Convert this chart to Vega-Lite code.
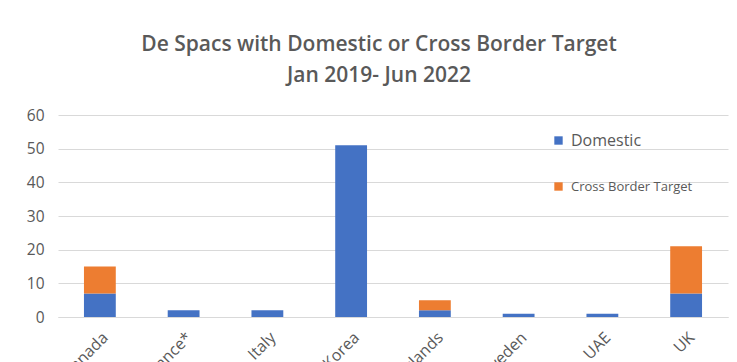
{
  "$schema": "https://vega.github.io/schema/vega-lite/v6.json",
  "autosize": {"type": "none"},
  "width": 670,
  "height": 202,
  "padding": {"left": 58, "top": 115, "right": 9, "bottom": 45},
  "background": "white",
  "title": {
    "text": ["De Spacs with Domestic or Cross Border Target", "Jan 2019- Jun 2022"],
    "font": "Open Sans",
    "fontSize": 21,
    "fontWeight": 600,
    "color": "#595959",
    "anchor": "middle",
    "dx": -14,
    "offset": 22,
    "lineHeight": 31
  },
  "data": {
    "values": [
      {"country": "Canada", "type": "Domestic", "count": 7, "ord": 1},
      {"country": "Canada", "type": "Cross Border Target", "count": 8, "ord": 2},
      {"country": "France*", "type": "Domestic", "count": 2, "ord": 1},
      {"country": "Italy", "type": "Domestic", "count": 2, "ord": 1},
      {"country": "Korea", "type": "Domestic", "count": 51, "ord": 1},
      {"country": "Netherlands", "type": "Domestic", "count": 2, "ord": 1},
      {"country": "Netherlands", "type": "Cross Border Target", "count": 3, "ord": 2},
      {"country": "Sweden", "type": "Domestic", "count": 1, "ord": 1},
      {"country": "UAE", "type": "Domestic", "count": 1, "ord": 1},
      {"country": "UK", "type": "Domestic", "count": 7, "ord": 1},
      {"country": "UK", "type": "Cross Border Target", "count": 14, "ord": 2}
    ]
  },
  "mark": {"type": "bar"},
  "encoding": {
    "x": {
      "field": "country",
      "type": "nominal",
      "sort": ["Canada", "France*", "Italy", "Korea", "Netherlands", "Sweden", "UAE", "UK"],
      "scale": {"paddingInner": 0.62, "paddingOuter": 0.31},
      "axis": {
        "title": null,
        "labelAngle": -45,
        "labelFont": "Open Sans",
        "labelFontSize": 16,
        "labelColor": "#595959",
        "ticks": false,
        "domainColor": "#d9d9d9",
        "labelPadding": 12
      }
    },
    "y": {
      "field": "count",
      "type": "quantitative",
      "stack": "zero",
      "scale": {"domain": [0, 60]},
      "axis": {
        "title": null,
        "values": [0, 10, 20, 30, 40, 50, 60],
        "labelFont": "Open Sans",
        "labelFontSize": 15.5,
        "labelColor": "#595959",
        "ticks": false,
        "domain": false,
        "gridColor": "#d9d9d9",
        "labelPadding": 14
      }
    },
    "color": {
      "field": "type",
      "type": "nominal",
      "scale": {"domain": ["Domestic", "Cross Border Target"], "range": ["#4472C4", "#ED7D31"]},
      "legend": {
        "title": null,
        "orient": "none",
        "legendX": 494,
        "legendY": 19,
        "symbolType": "square",
        "symbolSize": 70,
        "symbolStrokeWidth": 0,
        "labelFont": "Open Sans",
        "labelFontSize": 15,
        "labelColor": "#595959",
        "labelOffset": 6,
        "rowPadding": 31,
        "encode": {
          "labels": {
            "update": {
              "fontSize": {"signal": "datum.label == 'Domestic' ? 16 : 13"}
            }
          }
        }
      }
    },
    "order": {"field": "ord", "type": "quantitative"}
  },
  "config": {"view": {"stroke": null}}
}
